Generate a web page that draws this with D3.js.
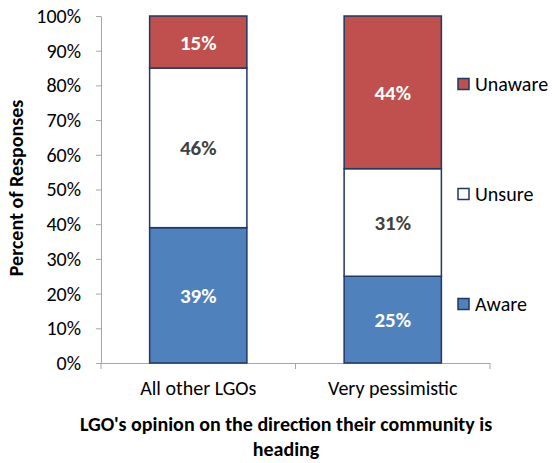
<!DOCTYPE html>
<meta charset="utf-8">
<style>
body { margin: 0; background: #fff; }
text { font-family: Calibri, Carlito, Lato, "Open Sans", sans-serif; }
.axis path, .axis line { stroke: #a6a6a6; }
.axis text { font-size: 20px; fill: #000; }
</style>
<body>
<svg width="553" height="463"></svg>
</body>
<script src="https://d3js.org/d3.v7.min.js"></script>
<script>

var categories = ["All other LGOs", "Very pessimistic"];
var aware   = [0.39, 0.25];
var unsure  = [0.46, 0.31];
var unaware = [0.15, 0.44];
var yTicks = [0, 0.1, 0.2, 0.3, 0.4, 0.5, 0.6, 0.7, 0.8, 0.9, 1];

var seriesNames = ["Aware", "Unsure", "Unaware"];
var colors = { "Aware": "#4f81bd", "Unsure": "#ffffff", "Unaware": "#c0504d" };
var labelColors = { "Aware": "#ffffff", "Unsure": "#404040", "Unaware": "#ffffff" };

var svg = d3.select("svg");

var plotLeft = 101, plotRight = 490, plotTop = 16, plotBottom = 363;

var table = categories.map(function(c, i) {
  return { cat: c, Aware: aware[i], Unsure: unsure[i], Unaware: unaware[i] };
});
var stacked = d3.stack().keys(seriesNames)(table);

var x = d3.scaleBand().domain(categories).range([plotLeft, plotRight])
    .paddingInner(0.5).paddingOuter(0.25);
var y = d3.scaleLinear().domain([0, 1]).range([plotBottom, plotTop]);

// y axis
svg.append("g")
    .attr("class", "axis")
    .attr("transform", "translate(" + plotLeft + ",0)")
    .call(d3.axisLeft(y).tickValues(yTicks).tickFormat(d3.format(".0%"))
      .tickSizeInner(5).tickSizeOuter(0).tickPadding(15));

// x axis, ticks sit on the category boundaries
var xg = svg.append("g")
    .attr("class", "axis")
    .attr("transform", "translate(0," + plotBottom + ")")
    .call(d3.axisBottom(x).tickSize(0).tickPadding(18));
xg.select(".domain").attr("d", "M" + (plotLeft - 0.5) + ",0.5H" + plotRight);
var bounds = [0, 1, 2].map(function(i) { return plotLeft + i * x.step(); });
xg.selectAll(".bound").data(bounds).enter().append("line")
    .attr("class", "bound")
    .attr("x1", function(d) { return d; }).attr("x2", function(d) { return d; })
    .attr("y1", 0).attr("y2", 6);

// bars
var layers = svg.append("g").selectAll("g")
    .data(stacked)
    .enter().append("g");

layers.selectAll("rect")
    .data(function(s) { return s.map(function(d) { d.key = s.key; return d; }); })
    .enter().append("rect")
    .attr("x", function(d) { return x(d.data.cat); })
    .attr("y", function(d) { return y(d[1]); })
    .attr("width", x.bandwidth())
    .attr("height", function(d) { return y(d[0]) - y(d[1]); })
    .attr("fill", function(d) { return colors[d.key]; })
    .attr("stroke", "#1f3864")
    .attr("stroke-width", 1.5);

layers.selectAll("text")
    .data(function(s) { return s; })
    .enter().append("text")
    .attr("x", function(d) { return x(d.data.cat) + x.bandwidth() / 2; })
    .attr("y", function(d) { return (y(d[0]) + y(d[1])) / 2; })
    .attr("dy", "0.36em")
    .attr("text-anchor", "middle")
    .style("font-size", "21px")
    .style("font-weight", "bold")
    .style("fill", function(d) { return labelColors[d.key]; })
    .text(function(d) { return d3.format(".0%")(d[1] - d[0]); });

// legend
var legendOrder = ["Unaware", "Unsure", "Aware"];
var legendY = [84, 194, 304];
var legend = svg.selectAll(".legend")
    .data(legendOrder)
    .enter().append("g")
    .attr("class", "legend")
    .attr("transform", function(d, i) { return "translate(458," + legendY[i] + ")"; });

legend.append("rect")
    .attr("x", 0).attr("y", -5.5)
    .attr("width", 11).attr("height", 11)
    .attr("fill", function(d) { return colors[d]; })
    .attr("stroke", "#1f3864")
    .attr("stroke-width", 1.5);

legend.append("text")
    .attr("x", 17)
    .attr("dy", "0.35em")
    .style("font-size", "20px")
    .text(function(d) { return d; });

// axis titles
svg.append("text")
    .attr("transform", "translate(23,188) rotate(-90)")
    .attr("text-anchor", "middle")
    .style("font-size", "20px")
    .style("font-weight", "bold")
    .text("Percent of Responses");

svg.append("text")
    .attr("x", 286).attr("y", 431)
    .attr("text-anchor", "middle")
    .style("font-size", "20px")
    .style("font-weight", "bold")
    .text("LGO's opinion on the direction their community is");

svg.append("text")
    .attr("x", 286).attr("y", 456)
    .attr("text-anchor", "middle")
    .style("font-size", "20px")
    .style("font-weight", "bold")
    .text("heading");

</script>
